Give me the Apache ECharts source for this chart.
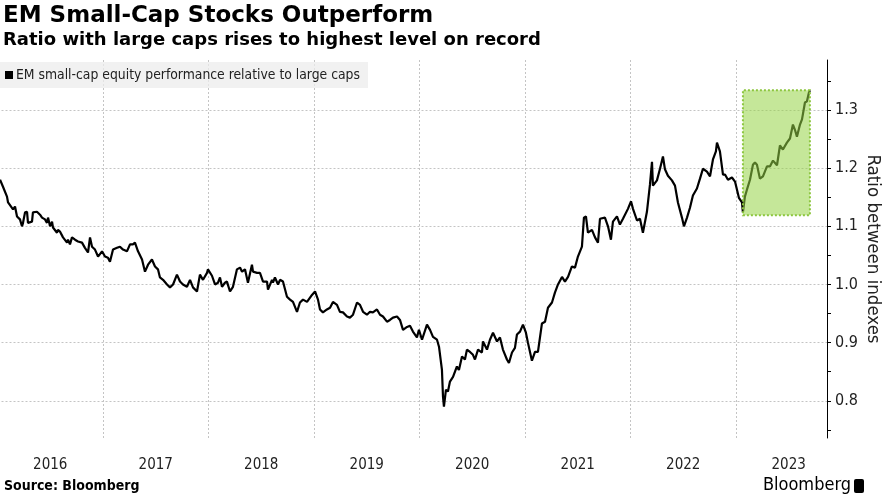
<!DOCTYPE html>
<html>
<head>
<meta charset="utf-8">
<script src="https://cdn.jsdelivr.net/npm/echarts@6/dist/echarts.min.js"></script>
<style>
html,body{margin:0;padding:0;background:#fff;}
#chart{width:883px;height:497px;}
</style>
</head>
<body>
<div id="chart"></div>
<script>
// Dates as decimal years
var dates = [2016.024,2016.052,2016.090,2016.100,2016.118,2016.147,2016.166,2016.185,2016.213,2016.232,
2016.242,2016.261,2016.280,2016.289,2016.327,2016.336,2016.374,2016.403,2016.422,2016.450,
2016.469,2016.479,2016.498,2016.517,2016.526,2016.564,2016.573,2016.592,2016.621,2016.659,
2016.668,2016.687,2016.706,2016.735,2016.763,2016.801,2016.829,2016.858,2016.877,2016.896,
2016.924,2016.953,2016.991,2017.019,2017.047,2017.066,2017.095,2017.133,2017.161,2017.190,
2017.227,2017.256,2017.284,2017.303,2017.332,2017.370,2017.398,2017.427,2017.464,2017.493,
2017.521,2017.540,2017.569,2017.607,2017.635,2017.664,2017.701,2017.730,2017.758,2017.796,
2017.825,2017.853,2017.891,2017.919,2017.948,2017.986,2017.995,2018.033,2018.062,2018.090,
2018.109,2018.128,2018.156,2018.175,2018.204,2018.232,2018.270,2018.299,2018.318,2018.346,
2018.374,2018.412,2018.422,2018.460,2018.488,2018.517,2018.555,2018.564,2018.602,2018.611,
2018.630,2018.659,2018.678,2018.706,2018.744,2018.773,2018.801,2018.839,2018.867,2018.896,
2018.934,2018.981,2019.010,2019.038,2019.057,2019.085,2019.123,2019.152,2019.180,2019.218,
2019.246,2019.275,2019.313,2019.341,2019.370,2019.408,2019.436,2019.465,2019.502,2019.531,
2019.559,2019.597,2019.626,2019.654,2019.692,2019.720,2019.749,2019.787,2019.815,2019.844,
2019.882,2019.910,2019.938,2019.976,2019.995,2020.024,2020.071,2020.100,2020.128,2020.166,
2020.185,2020.213,2020.223,2020.232,2020.251,2020.270,2020.289,2020.318,2020.355,2020.374,
2020.403,2020.431,2020.450,2020.479,2020.507,2020.526,2020.555,2020.592,2020.602,2020.640,
2020.668,2020.697,2020.735,2020.763,2020.791,2020.829,2020.848,2020.877,2020.905,2020.924,
2020.953,2020.981,2021.009,2021.028,2021.066,2021.095,2021.123,2021.161,2021.190,2021.218,
2021.256,2021.284,2021.313,2021.351,2021.379,2021.408,2021.445,2021.474,2021.502,2021.540,
2021.559,2021.578,2021.597,2021.635,2021.664,2021.692,2021.711,2021.758,2021.787,2021.815,
2021.834,2021.872,2021.900,2021.929,2021.976,2022.005,2022.024,2022.062,2022.090,2022.118,
2022.156,2022.185,2022.204,2022.213,2022.251,2022.280,2022.308,2022.327,2022.355,2022.393,
2022.422,2022.450,2022.488,2022.507,2022.536,2022.564,2022.592,2022.630,2022.659,2022.687,
2022.725,2022.754,2022.782,2022.810,2022.820,2022.848,2022.877,2022.896,2022.924,2022.962,
2022.991,2023.009,2023.028,2023.057,2023.066,2023.085,2023.104,2023.133,2023.161,2023.180,
2023.199,2023.227,2023.256,2023.294,2023.322,2023.351,2023.389,2023.417,2023.445,2023.483,
2023.512,2023.540,2023.559,2023.578,2023.607,2023.626,2023.654,2023.673,2023.692,2023.701];

// EM small-cap / large-cap ratio
var ratio = [1.180,1.168,1.151,1.141,1.143,1.129,1.134,1.117,1.112,1.100,
1.106,1.124,1.125,1.106,1.108,1.124,1.125,1.120,1.115,1.112,
1.106,1.115,1.100,1.108,1.098,1.089,1.094,1.091,1.081,1.072,
1.077,1.069,1.081,1.077,1.074,1.072,1.063,1.055,1.081,1.065,
1.060,1.048,1.057,1.048,1.046,1.039,1.060,1.063,1.065,1.060,
1.057,1.069,1.069,1.072,1.057,1.043,1.022,1.034,1.043,1.031,
1.026,1.012,1.008,1.000,0.995,1.000,1.017,1.005,1.000,0.996,
1.008,0.995,0.988,1.017,1.008,1.020,1.026,1.015,1.000,1.003,
1.012,0.996,1.003,1.005,0.988,0.996,1.026,1.029,1.022,1.026,
1.003,1.034,1.022,1.020,1.020,1.005,1.005,0.991,1.008,1.003,
1.012,1.000,1.008,1.005,0.979,0.974,0.970,0.953,0.969,0.974,
0.970,0.982,0.988,0.974,0.957,0.952,0.957,0.960,0.970,0.965,
0.953,0.952,0.945,0.943,0.948,0.969,0.965,0.953,0.948,0.953,
0.952,0.957,0.948,0.945,0.936,0.939,0.943,0.945,0.939,0.922,
0.927,0.929,0.919,0.909,0.922,0.905,0.931,0.922,0.910,0.905,
0.893,0.853,0.807,0.790,0.819,0.816,0.833,0.841,0.859,0.853,
0.876,0.871,0.888,0.884,0.879,0.871,0.888,0.883,0.902,0.888,
0.905,0.917,0.902,0.909,0.888,0.871,0.865,0.883,0.891,0.914,
0.919,0.931,0.917,0.900,0.869,0.884,0.884,0.933,0.936,0.960,
0.969,0.986,1.000,1.013,1.005,1.013,1.031,1.029,1.048,1.065,
1.115,1.117,1.089,1.094,1.081,1.072,1.113,1.115,1.100,1.077,
1.108,1.117,1.103,1.113,1.130,1.143,1.130,1.110,1.113,1.089,
1.125,1.172,1.211,1.170,1.179,1.199,1.220,1.198,1.187,1.179,
1.170,1.141,1.115,1.100,1.115,1.132,1.153,1.165,1.182,1.199,
1.194,1.186,1.215,1.229,1.244,1.229,1.189,1.189,1.180,1.184,
1.177,1.180,1.149,1.141,1.124,1.151,1.163,1.180,1.206,1.210,
1.206,1.182,1.186,1.203,1.203,1.213,1.205,1.239,1.232,1.244,
1.251,1.275,1.266,1.254,1.275,1.284,1.313,1.315,1.330,1.334];

var yearGridLines = [2017, 2018, 2019, 2020, 2021, 2022, 2023];
var yearLabelPos = [2016.5, 2017.5, 2018.5, 2019.5, 2020.5, 2021.5, 2022.5, 2023.5];
var yLabels = [0.8, 0.9, 1.0, 1.1, 1.2, 1.3];
var yTicks = [0.75, 0.8, 0.85, 0.9, 0.95, 1.0, 1.05, 1.1, 1.15, 1.2, 1.25, 1.3, 1.35];
var highlightStart = [2023.066, 1.119];
var highlightEnd = [2023.701, 1.334];
var seriesName = 'EM small-cap equity performance relative to large caps';

var lineData = dates.map(function (d, i) { return [d, ratio[i]]; });

var narrow = "'Liberation Sans Narrow', 'DejaVu Sans Condensed', 'Roboto Condensed', sans-serif";
var chart = echarts.init(document.getElementById('chart'), null, {renderer: 'canvas'});
var option = {
  backgroundColor: '#ffffff',
  animation: false,
  title: {
    text: 'EM Small-Cap Stocks Outperform',
    subtext: 'Ratio with large caps rises to highest level on record',
    left: -2, top: 0,
    itemGap: 3,
    textStyle: {fontFamily: "'DejaVu Sans', sans-serif", fontSize: 23, fontWeight: 'bold', color: '#000'},
    subtextStyle: {fontFamily: "'DejaVu Sans', sans-serif", fontSize: 18, fontWeight: 'bold', color: '#000'}
  },
  legend: {
    data: [seriesName],
    left: 0, top: 62,
    padding: [6, 8, 6, 5],
    backgroundColor: 'rgba(236,236,236,0.75)',
    icon: 'rect', itemWidth: 8, itemHeight: 8, itemGap: 4,
    textStyle: {fontFamily: narrow, fontSize: 13.8, color: '#222', padding: [0, 0, 0, -2]}
  },
  grid: {left: -2.5, right: 56, top: 60, bottom: 59, containLabel: false, outerBoundsMode: 'none'},
  xAxis: {
    type: 'value', min: 2016, max: 2023.863,
    axisLine: {show: false},
    axisTick: {show: false, customValues: yearGridLines},
    splitLine: {show: true, lineStyle: {color: '#c4c4c4', type: [2, 2], width: 1}},
    axisLabel: {
      customValues: yearLabelPos, margin: 20,
      fontFamily: narrow, fontSize: 15, color: '#222',
      formatter: function (v) { return String(Math.floor(v)); }
    }
  },
  yAxis: [{
    type: 'value', position: 'right', min: 0.736, max: 1.386,
    axisLine: {show: true, lineStyle: {color: '#000', width: 1}},
    axisTick: {show: true, inside: false, length: 4, customValues: yTicks, lineStyle: {color: '#000'}},
    axisLabel: {customValues: yLabels, margin: 8, fontFamily: narrow, fontSize: 16, color: '#222',
      formatter: function (v) { return v.toFixed(1); }},
    splitLine: {show: false},
    name: 'Ratio between indexes', nameLocation: 'middle', nameRotate: -90, nameGap: 36,
    nameMoveOverlap: false,
    nameTextStyle: {fontFamily: narrow, fontSize: 18.5, color: '#222'}
  }, {
    type: 'value', position: 'right', min: 0.736, max: 1.386,
    axisLine: {show: false},
    axisTick: {show: false, customValues: yLabels},
    axisLabel: {show: false},
    splitLine: {show: true, lineStyle: {color: '#c4c4c4', type: [2, 2], width: 1}}
  }],
  series: [{
    name: seriesName, type: 'line', yAxisIndex: 0,
    data: lineData, showSymbol: false, symbol: 'none',
    lineStyle: {color: '#000', width: 2.2},
    itemStyle: {color: '#000'}, z: 2
  }, {
    name: 'highlight', type: 'line', yAxisIndex: 0, data: [], z: 5,
    markArea: {
      silent: true, z: 6,
      itemStyle: {color: 'rgba(150,212,70,0.55)', borderColor: '#8dc63f', borderWidth: 2, borderType: [2, 2]},
      data: [[{coord: highlightStart}, {coord: highlightEnd}]]
    }
  }],
  graphic: [
    {type: 'text', left: 4, top: 479, style: {text: 'Source: Bloomberg', fontFamily: narrow, fontSize: 14, fontWeight: 'bold', fill: '#000'}},
    {type: 'text', right: 32, top: 476, style: {text: 'Bloomberg', fontFamily: narrow, fontSize: 18, fill: '#000'}},
    {type: 'rect', right: 19, top: 479, shape: {width: 10, height: 14, r: 2}, style: {fill: '#000'}}
  ]
};
chart.setOption(option);
</script>
</body>
</html>
